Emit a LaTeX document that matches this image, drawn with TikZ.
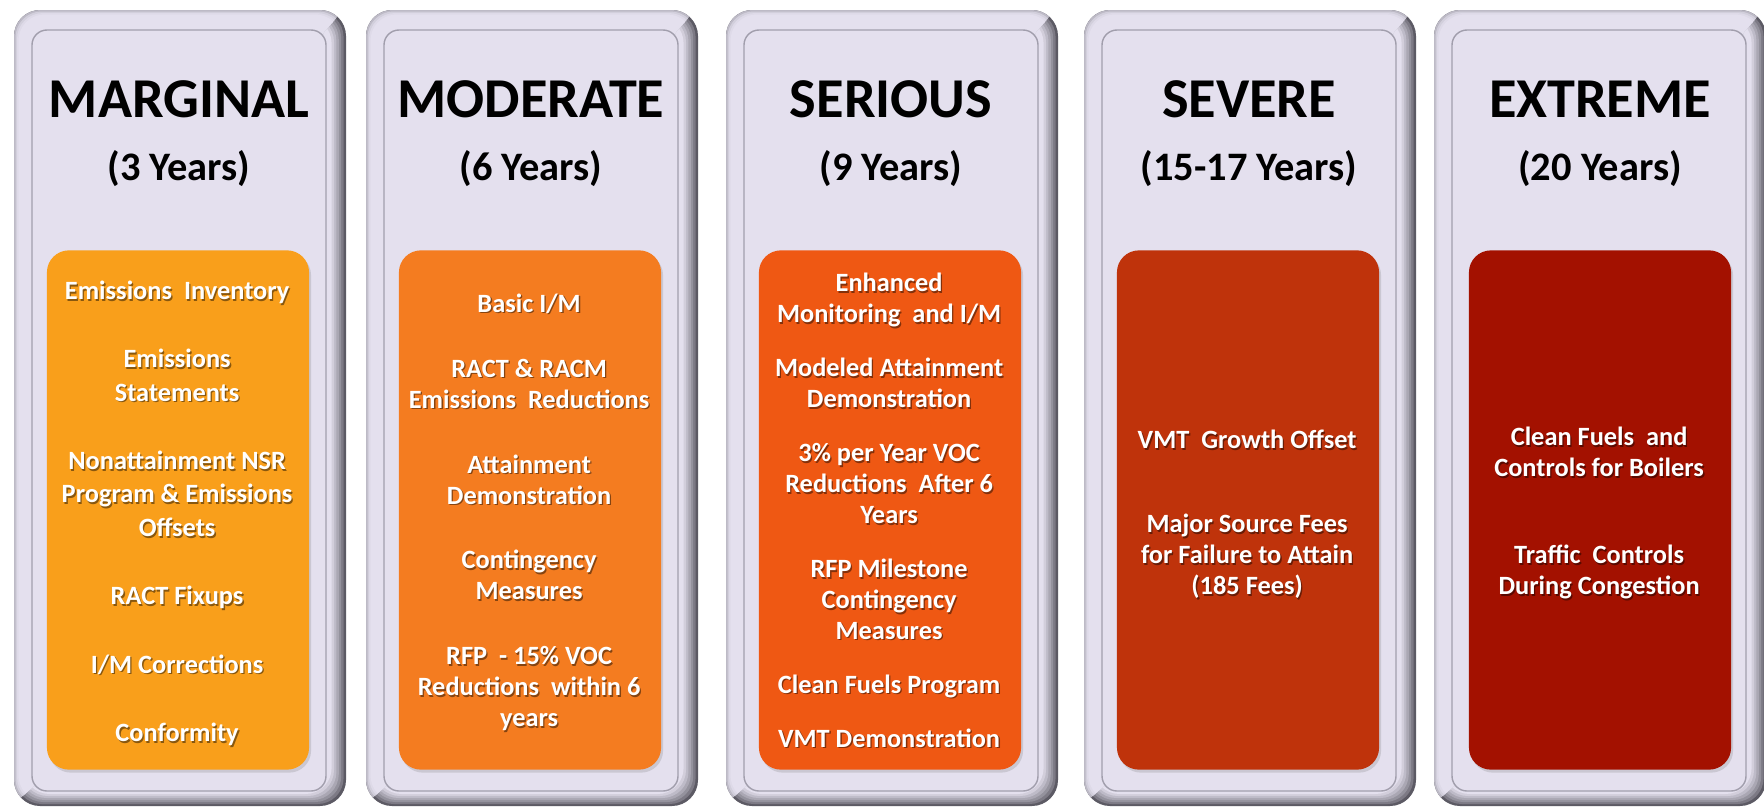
\documentclass[tikz,border=0pt]{standalone}
\usepackage{fontspec}
\setmainfont{Carlito}
\usetikzlibrary{positioning, shadows}
\usepackage{xcolor}
\definecolor{panel}{HTML}{E4E0EE}
\definecolor{panelline}{HTML}{A19EAC}
\definecolor{framedark}{HTML}{5C5A64}
\definecolor{framelight}{HTML}{BDBAC6}
\definecolor{marginal}{HTML}{F99F1B}
\definecolor{moderate}{HTML}{F47C20}
\definecolor{serious}{HTML}{EF5813}
\definecolor{severe}{HTML}{BF330B}
\definecolor{extreme}{HTML}{A31100}
\tikzset{%
	class title/.style={
		font=\fontsize{16}{19}\selectfont\bfseries,
		text=black
	},
	class years/.style={
		font=\fontsize{11.5}{14}\selectfont\bfseries,
		text=black
	},
	measure box/.style={
		rounded corners=0.22cm,
		minimum width=2.62cm,
		minimum height=5.19cm,
		drop shadow={opacity=0.25, shadow xshift=0.02cm, shadow yshift=-0.03cm}
	},
	measure shadow/.style={
		inner sep=0pt,
		align=center,
		text=black,
		text opacity=0.45,
		font=\fontsize{7.5}{8.8}\selectfont\bfseries
	},
	measure text/.style={
		inner sep=0pt,
		align=center,
		text=white,
		font=\fontsize{7.5}{8.8}\selectfont\bfseries
	},
	loose/.style={
		font=\fontsize{7.5}{9.5}\selectfont\bfseries
	},
}
\newcommand{\marginalitems}{%
	Emissions\ \ Inventory\\[0.35cm]
	Emissions\\ Statements\\[0.35cm]
	Nonattainment NSR\\ Program \& Emissions\\ Offsets\\[0.35cm]
	RACT Fixups\\[0.35cm]
	I/M Corrections\\[0.35cm]
	Conformity}
\newcommand{\moderateitems}{%
	Basic I/M\\[0.34cm]
	RACT \& RACM\\ Emissions\ \ Reductions\\[0.34cm]
	Attainment\\ Demonstration\\[0.34cm]
	Contingency\\ Measures\\[0.34cm]
	RFP\ \ - 15\% VOC\\ Reductions\ \ within 6\\ years}
\newcommand{\seriousitems}{%
	Enhanced\\ Monitoring\ \ and I/M\\[0.23cm]
	Modeled Attainment\\ Demonstration\\[0.23cm]
	3\% per Year VOC\\ Reductions\ \ After 6\\ Years\\[0.23cm]
	RFP Milestone\\ Contingency\\ Measures\\[0.23cm]
	Clean Fuels Program\\[0.23cm]
	VMT Demonstration}
\newcommand{\severeitems}{%
	VMT\ \ Growth Offset\\[0.53cm]
	Major Source Fees\\ for Failure to Attain\\ (185 Fees)}
\newcommand{\extremeitems}{%
	Clean Fuels\ \ and\\ Controls for Boilers\\[0.56cm]
	Traffic\ \ Controls\\ During Congestion}

\begin{document}
\begin{tikzpicture}[x=0.01cm, y=-0.01cm]
	\useasboundingbox[fill=white] (0,0) rectangle (1764,809);
	% frames
	\foreach \c in {178,530,890,1248,1598}{
		% dark edge, right and bottom
		\foreach \k in {0,...,7}{
			\pgfmathsetmacro{\p}{min(100,100*(\k/6)^0.8)}
			\fill[panel!\p!framedark, rounded corners=0.26cm]
				(\c-164+1.6*\k,10+1.2*\k) rectangle (\c+168-2.4*\k,806-2*\k);
		}
		% light edge, left and top
		\begin{scope}
			\clip (\c-170,0) -- (\c+174,0) -- (\c+146,32) -- (\c-144,786) -- (\c-170,809) -- cycle;
			\foreach \k/\p in {0/0,1/55,2/85,3/100}{
				\fill[panel!\p!framelight, rounded corners=0.26cm]
					(\c-164+1.5*\k,10+1.5*\k) rectangle (\c+168-1.5*\k,806-1.5*\k);
			}
		\end{scope}
		\filldraw[fill=panel, draw=panelline, line width=0.4pt, rounded corners=0.15cm]
			(\c-146,30) rectangle (\c+148,791);
	}
	% titles
	\node[class title] (t1) at (179,99) {MARGINAL};
	\node[class title] (t2) at (531,99) {MODERATE};
	\node[class title] (t3) at (891,99) {SERIOUS};
	\node[class title] (t4) at (1249,99) {SEVERE};
	\node[class title] (t5) at (1600,99) {EXTREME};
	\node[class years] (y1) at (179,169) {(3 Years)};
	\node[class years] (y2) at (531,169) {(6 Years)};
	\node[class years] (y3) at (891,169) {(9 Years)};
	\node[class years] (y4) at (1249,169) {(15-17 Years)};
	\node[class years] (y5) at (1600,169) {(20 Years)};
	% measures
	\node[measure box, fill=marginal] (b1) at (178,510) {};
	\node[measure box, fill=moderate] (b2) at (530,510) {};
	\node[measure box, fill=serious] (b3) at (890,510) {};
	\node[measure box, fill=severe] (b4) at (1248,510) {};
	\node[measure box, fill=extreme] (b5) at (1600,510) {};
	\node[measure shadow, loose] (s1) at ([shift={(0.4,5)}]b1.center) {\marginalitems};
	\node[measure shadow] (s2) at ([shift={(0.4,4)}]b2.center) {\moderateitems};
	\node[measure shadow] (s3) at ([shift={(0.4,2)}]b3.center) {\seriousitems};
	\node[measure shadow] (s4) at ([shift={(0.4,6)}]b4.center) {\severeitems};
	\node[measure shadow] (s5) at ([shift={(0.4,5)}]b5.center) {\extremeitems};
	\node[measure text, loose] (m1) at ([shift={(-1.3,-1.7)}]s1.center) {\marginalitems};
	\node[measure text] (m2) at ([shift={(-1.3,-1.7)}]s2.center) {\moderateitems};
	\node[measure text] (m3) at ([shift={(-1.3,-1.7)}]s3.center) {\seriousitems};
	\node[measure text] (m4) at ([shift={(-1.3,-1.7)}]s4.center) {\severeitems};
	\node[measure text] (m5) at ([shift={(-1.3,-1.7)}]s5.center) {\extremeitems};
\end{tikzpicture}
\end{document}
